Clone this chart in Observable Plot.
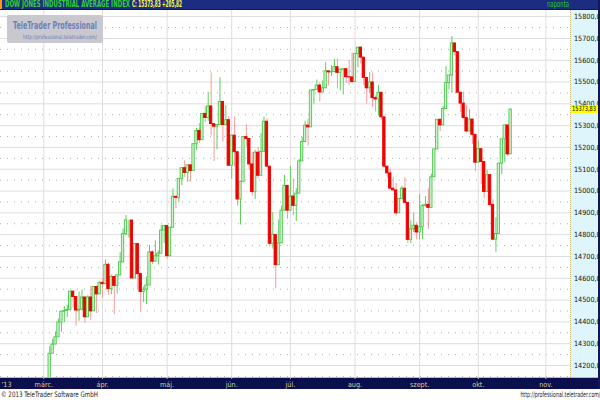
<!DOCTYPE html>
<html><head><meta charset="utf-8">
<script src="https://cdn.jsdelivr.net/npm/d3@7"></script>
<script src="https://cdn.jsdelivr.net/npm/@observablehq/plot@0.6"></script>
<style>
html,body{margin:0;padding:0;background:#fff;}
body{width:600px;height:400px;overflow:hidden;position:relative;font-family:"Liberation Sans Narrow","DejaVu Sans Condensed","Liberation Sans",sans-serif;}
#hdr{position:absolute;left:0;top:0;width:600px;height:9px;background:#1c2c80;border-bottom:1px solid #0d1660;overflow:hidden;}
#hdr .o{position:absolute;left:0;top:0;width:2px;height:9px;background:#ff9a00;}
#t1{position:absolute;left:5px;top:0;font-size:8px;line-height:9px;font-weight:bold;color:#2fd22f;white-space:nowrap;}
#t2{position:absolute;left:132px;top:0;font-size:8px;line-height:9px;font-weight:bold;color:#ffff40;white-space:nowrap;}
#tn{position:absolute;left:547px;top:0;font-size:8px;line-height:9px;color:#22c822;white-space:nowrap;}
#panel{position:absolute;left:570px;top:10px;width:27px;height:367px;background:#dff5fc;border-left:1px dotted #c8b878;}
#rb{position:absolute;left:598px;top:0;width:2px;height:389px;background:#101858;}
#bar{position:absolute;left:0;top:377px;width:600px;height:11px;background:#0b0f4e;border-top:1px solid #b8b8c0;}
#chart{position:absolute;left:0;top:10px;}
#logo{position:absolute;left:7px;top:15px;width:96px;height:28px;background:#c8c8ce;border-radius:2px;}
#la{position:absolute;left:6px;top:4px;font-size:10.5px;line-height:12px;font-weight:bold;color:#6f80b6;white-space:nowrap;}
#lb{position:absolute;left:16px;top:18px;font-size:6px;line-height:7px;color:#6f80b6;white-space:nowrap;}
#last{position:absolute;left:571px;width:27px;height:8px;background:#ffff00;}
#lastT{position:absolute;left:1px;top:0;font-size:7.2px;line-height:8px;color:#000;white-space:nowrap;}
#fl{position:absolute;left:1px;top:389px;font-size:7.5px;line-height:11px;color:#222;white-space:nowrap;}
#fr{position:absolute;right:0;top:389px;font-size:7.5px;line-height:11px;color:#222;white-space:nowrap;}
</style>
</head><body>
<div id="hdr"><div class="o"></div><div id="t1"></div><div id="t2"></div><div id="tn">naponta</div></div>
<div id="panel"></div>
<div id="bar"></div>
<div id="rb"></div>
<div id="chart"></div>
<div id="logo"><div id="la">TeleTrader Professional</div><div id="lb">http://professional.teletrader.com/</div></div>
<div id="last"><div id="lastT"></div></div>
<div id="fl">© 2013 TeleTrader Software GmbH</div>
<div id="fr">http://professional.teletrader.com/</div>
<script>
const instrument = "DOW JONES INDUSTRIAL AVERAGE INDEX";
const lastPrice = 15373.83;
const lastChange = 205.82;

const dates = [
"2013-03-01","2013-03-04","2013-03-05","2013-03-06","2013-03-07","2013-03-08","2013-03-11","2013-03-12","2013-03-13","2013-03-14","2013-03-15","2013-03-18","2013-03-19","2013-03-20","2013-03-21","2013-03-22","2013-03-25","2013-03-26","2013-03-27","2013-03-28",
"2013-04-01","2013-04-02","2013-04-03","2013-04-04","2013-04-05","2013-04-08","2013-04-09","2013-04-10","2013-04-11","2013-04-12","2013-04-15","2013-04-16","2013-04-17","2013-04-18","2013-04-19","2013-04-22","2013-04-23","2013-04-24","2013-04-25","2013-04-26","2013-04-29","2013-04-30",
"2013-05-01","2013-05-02","2013-05-03","2013-05-06","2013-05-07","2013-05-08","2013-05-09","2013-05-10","2013-05-13","2013-05-14","2013-05-15","2013-05-16","2013-05-17","2013-05-20","2013-05-21","2013-05-22","2013-05-23","2013-05-24","2013-05-28","2013-05-29","2013-05-30","2013-05-31",
"2013-06-03","2013-06-04","2013-06-05","2013-06-06","2013-06-07","2013-06-10","2013-06-11","2013-06-12","2013-06-13","2013-06-14","2013-06-17","2013-06-18","2013-06-19","2013-06-20","2013-06-21","2013-06-24","2013-06-25","2013-06-26","2013-06-27","2013-06-28",
"2013-07-01","2013-07-02","2013-07-03","2013-07-05","2013-07-08","2013-07-09","2013-07-10","2013-07-11","2013-07-12","2013-07-15","2013-07-16","2013-07-17","2013-07-18","2013-07-19","2013-07-22","2013-07-23","2013-07-24","2013-07-25","2013-07-26","2013-07-29","2013-07-30","2013-07-31",
"2013-08-01","2013-08-02","2013-08-05","2013-08-06","2013-08-07","2013-08-08","2013-08-09","2013-08-12","2013-08-13","2013-08-14","2013-08-15","2013-08-16","2013-08-19","2013-08-20","2013-08-21","2013-08-22","2013-08-23","2013-08-26","2013-08-27","2013-08-28","2013-08-29","2013-08-30",
"2013-09-03","2013-09-04","2013-09-05","2013-09-06","2013-09-09","2013-09-10","2013-09-11","2013-09-12","2013-09-13","2013-09-16","2013-09-17","2013-09-18","2013-09-19","2013-09-20","2013-09-23","2013-09-24","2013-09-25","2013-09-26","2013-09-27","2013-09-30",
"2013-10-01","2013-10-02","2013-10-03","2013-10-04","2013-10-07","2013-10-08","2013-10-09","2013-10-10","2013-10-11","2013-10-14","2013-10-15","2013-10-16"];

const opens = [
13861,14090,14128,14254,14296,14329,14397,14447,14450,14455,14539,14514,14452,14456,14512,14421,14512,14448,14560,14526,
14579,14573,14662,14550,14606,14565,14613,14673,14802,14865,14865,14599,14757,14619,14537,14548,14567,14719,14676,14701,14713,14819,
14840,14701,14832,14974,14969,15056,15105,15083,15118,15092,15215,15276,15233,15354,15335,15388,15307,15295,15303,15409,15303,15325,
15116,15254,15178,14961,15041,15248,15239,15122,14995,15176,15070,15180,15318,15112,14758,14799,14660,14760,14910,15024,
14910,14975,14932,14988,15136,15225,15300,15292,15461,15464,15484,15452,15471,15549,15544,15546,15568,15542,15556,15559,15522,15521,
15500,15628,15658,15612,15519,15471,15498,15426,15420,15451,15338,15112,15081,15011,15003,14898,14964,15011,14946,14776,14825,14841,
14810,14834,14931,14937,14923,15063,15191,15327,15301,15376,15495,15530,15677,15637,15451,15401,15335,15273,15328,15258,
15130,15192,15133,14996,15073,14936,14777,14803,15126,15237,15301,15168];

const highs = [
14090,14128,14286,14320,14354,14413,14448,14470,14475,14539,14540,14514,14537,14546,14511,14520,14563,14563,14565,14585,
14598,14684,14669,14614,14606,14613,14717,14826,14888,14866,14866,14757,14757,14625,14560,14606,14750,14727,14772,14726,14843,14843,
14840,14832,15009,14974,15056,15106,15139,15118,15118,15215,15288,15310,15354,15388,15452,15542,15307,15303,15520,15409,15392,15340,
15254,15340,15178,15046,15248,15304,15239,15177,15187,15200,15264,15339,15331,15112,14900,14799,14868,14931,15072,15024,
15112,15055,15011,15145,15246,15320,15330,15461,15465,15509,15497,15505,15589,15549,15575,15604,15605,15561,15559,15559,15599,15634,
15628,15658,15658,15612,15519,15543,15541,15436,15485,15452,15338,15112,15102,15063,15035,14965,15022,15062,14946,14863,14899,14855,
14985,14938,14974,15009,15078,15191,15327,15327,15387,15570,15530,15709,15677,15637,15451,15455,15394,15373,15328,15258,
15229,15192,15133,15095,15073,14960,14877,15126,15237,15301,15301,15376];

const lows = [
13860,13937,14128,14254,14296,14329,14353,14396,14420,14455,14466,14380,14403,14450,14395,14421,14406,14448,14439,14526,
14508,14573,14521,14525,14434,14528,14613,14673,14796,14784,14598,14599,14543,14444,14489,14479,14567,14663,14676,14660,14713,14760,
14687,14700,14832,14920,14946,15025,15062,15040,15041,15092,15186,15218,15233,15313,15320,15253,15136,15189,15303,15225,15302,15115,
15055,15109,14930,14844,15041,15202,15095,14976,14961,15056,15070,15180,15112,14744,14734,14551,14659,14760,14910,14870,
14910,14887,14860,14988,15136,15225,15205,15292,15399,15464,15409,15452,15471,15482,15527,15544,15468,15459,15441,15493,15485,15495,
15500,15565,15582,15484,15398,15447,15384,15362,15345,15327,15108,15057,15010,14999,14885,14898,14964,14946,14760,14760,14810,14777,
14776,14777,14927,14825,14923,15063,15191,15272,15300,15376,15463,15448,15619,15451,15361,15330,15267,15273,15214,15088,
15130,15030,14964,14996,14924,14776,14719,14803,15075,15130,15159,15168];

const closes = [
14090,14128,14254,14296,14329,14397,14447,14450,14455,14539,14514,14452,14456,14512,14421,14512,14448,14560,14526,14579,
14573,14662,14550,14606,14565,14613,14673,14802,14865,14865,14599,14757,14619,14537,14548,14567,14719,14676,14701,14713,14819,14840,
14701,14832,14974,14969,15056,15105,15083,15118,15092,15215,15276,15233,15354,15335,15388,15307,15295,15303,15409,15303,15325,15116,
15254,15178,14961,15041,15248,15239,15122,14995,15176,15070,15180,15318,15112,14758,14799,14660,14760,14910,15024,14910,
14975,14932,14988,15136,15225,15300,15292,15461,15464,15484,15452,15471,15549,15544,15546,15568,15542,15556,15559,15522,15521,15500,
15628,15658,15612,15519,15471,15498,15426,15420,15451,15338,15112,15081,15011,15003,14898,14964,15011,14946,14776,14825,14841,14810,
14834,14931,14937,14923,15063,15191,15327,15301,15376,15495,15530,15677,15637,15451,15401,15335,15273,15328,15258,15130,
15192,15133,14996,15073,14936,14777,14803,15126,15237,15301,15168,15373.83];

// x axis: trading-day index counted from 2013-03-01
const monthLabels = ["márc.","ápr.","máj.","jún.","júl.","aug.","szept.","okt.","nov."];
const monthStartIdx = [0,20,42,64,84,106,128,148,171];
const yearLabel = "'13";
const xDomain = [-14.75, 179.4];
const yDomain = [14145, 15828];
const yTicks = [14200,14300,14400,14500,14600,14700,14800,14900,15000,15100,15200,15300,15400,15500,15600,15700,15800];
const yHalf = [14150,14250,14350,14450,14550,14650,14750,14850,14950,15050,15150,15250,15350,15450,15550,15650,15750];

const fmt = v => v.toFixed(2).replace(".", ",");
document.getElementById("t1").textContent = instrument;
document.getElementById("t2").textContent = "C: " + fmt(lastPrice) + " +" + fmt(lastChange);

const rows = dates.map((d, i) => ({i, date: d, open: opens[i], high: highs[i], low: lows[i], close: closes[i]}));
const up = d => d.close >= d.open;
const monthMap = new Map(monthStartIdx.map((v, k) => [v, monthLabels[k]]));
const FONT = '"Liberation Sans Narrow","DejaVu Sans Condensed","Liberation Sans",sans-serif';

const chart = Plot.plot({
  width: 600, height: 379,
  marginTop: 0, marginBottom: 12, marginLeft: 0, marginRight: 30,
  style: {background: "transparent", fontFamily: FONT, fontSize: "7.2px", overflow: "visible"},
  x: {type: "linear", domain: xDomain, axis: null},
  y: {type: "linear", domain: yDomain, axis: null},
  marks: [
    Plot.ruleY(yTicks, {stroke: "#e0dbe0", strokeWidth: 1}),
    Plot.ruleY(yHalf, {stroke: "#b0b0b0", strokeDasharray: "1,6"}),
    Plot.ruleX(monthStartIdx, {stroke: "#e0dbe0", strokeWidth: 1}),
    Plot.ruleX(rows, {filter: up, x: "i", y1: "low", y2: "high", stroke: "#5ccf5c", strokeWidth: 1, clip: true}),
    Plot.ruleX(rows, {filter: d => !up(d), x: "i", y1: "low", y2: "high", stroke: "#f79a9a", strokeWidth: 1, clip: true}),
    Plot.rect(rows, {filter: up, x1: d => d.i - 0.4, x2: d => d.i + 0.4, y1: "open", y2: "close", fill: "#cff3cf", stroke: "#4cc84c", strokeWidth: 0.9, clip: true}),
    Plot.rect(rows, {filter: d => !up(d), x1: d => d.i - 0.4, x2: d => d.i + 0.4, y1: "open", y2: "close", fill: "#f00000", stroke: "#f00000", strokeWidth: 0.9, clip: true}),
    Plot.axisY({anchor: "right", ticks: yTicks, tickFormat: fmt, tickSize: 0, tickPadding: 3.5, fill: "#111", label: null, fontSize: 7.2, ariaLabel: "yax"}),
    Plot.axisX({anchor: "bottom", ticks: monthStartIdx, tickFormat: d => monthMap.get(d), tickSize: 2, tickPadding: 2, stroke: "#c8c090", fill: "#d4cc9c", label: null, fontSize: 7.2, ariaLabel: "xax"}),
    Plot.text([{i: xDomain[0], t: yearLabel}], {x: "i", text: "t", frameAnchor: "bottom", lineAnchor: "top", textAnchor: "start", dx: 1, dy: 4, fill: "#d4cc9c", fontSize: 7.2, ariaLabel: "year"})
  ]
});
document.getElementById("chart").appendChild(chart);

// condense texts horizontally (narrow face of the original) with a scale in each text's own transform
function squeezeSvg(sel, refIndex, target) {
  const ts = Array.from(chart.querySelectorAll(sel));
  if (!ts.length) return;
  const ref = ts[Math.min(refIndex, ts.length - 1)].getComputedTextLength();
  const k = target / ref;
  ts.forEach(t => {
    let tr = t.getAttribute("transform");
    if (!tr) {
      const x = +t.getAttribute("x") || 0, y = +t.getAttribute("y") || 0;
      t.removeAttribute("x"); t.removeAttribute("y");
      tr = "translate(" + x + "," + y + ")";
    }
    t.setAttribute("transform", tr + " scale(" + k.toFixed(4) + ",1)");
  });
  return k;
}
squeezeSvg('g[aria-label="yax"] text', 0, 23.5);
squeezeSvg('g[aria-label="xax"] text', 6, 16);
squeezeSvg('g[aria-label="year"] text', 0, 8);

function fit(id, w, right) {
  const el = document.getElementById(id);
  const r = el.getBoundingClientRect().width;
  el.style.transformOrigin = right ? "100% 0" : "0 0";
  el.style.transform = "scaleX(" + (w / r) + ")";
}
fit("t1", 125); fit("t2", 50); fit("tn", 22);
fit("la", 84); fit("lb", 74);
fit("fl", 97); fit("fr", 80, true);

const yPix = chart.scale("y").apply(lastPrice);
const last = document.getElementById("last");
document.getElementById("lastT").textContent = fmt(lastPrice);
fit("lastT", 24);
last.style.top = (10 + yPix - 4) + "px";
</script>
</body></html>
